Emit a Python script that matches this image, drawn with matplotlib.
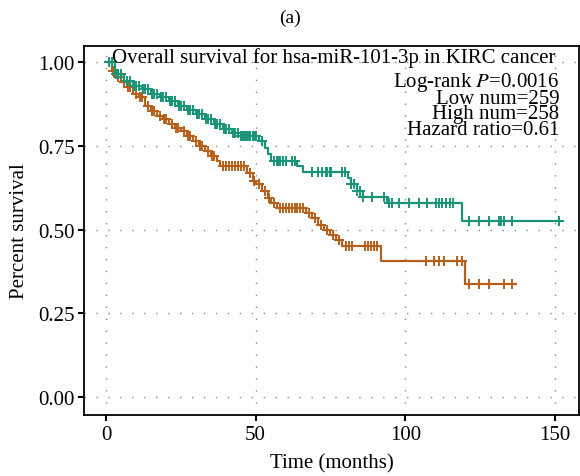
import numpy as np
import matplotlib
matplotlib.use("Agg")
import matplotlib.pyplot as plt

plt.rcParams["font.family"] = ["Liberation Serif", "DejaVu Serif"]
plt.rcParams["mathtext.fontset"] = "stix"

# Kaplan-Meier steps: (time in months, survival after the step)
low_t = [0, 3, 6, 9, 12, 15, 18, 21, 24, 27, 30, 33, 36, 39, 42, 45,
         51, 53, 54, 55, 64, 66, 81, 82, 84, 86, 94, 119, 152]
low_s = [1.0, 0.965, 0.945, 0.93, 0.92, 0.905, 0.895, 0.885, 0.87, 0.857, 0.845, 0.83,
         0.815, 0.80, 0.79, 0.78, 0.765, 0.745, 0.725, 0.705, 0.69, 0.672, 0.655, 0.635,
         0.615, 0.597, 0.578, 0.526, 0.526]
low_cens = [1, 2, 3.5, 4, 5, 7, 8, 9.5, 10, 11, 12.5, 13, 14, 15.5, 16, 17, 18.5, 19, 20,
            21.5, 22, 23, 24.5, 25, 26, 27.5, 28, 29, 30.5, 31, 32, 33.5, 34, 35, 36.5,
            37, 38, 39.5, 40, 41, 42.5, 43, 44, 45, 45.5, 46, 46.5, 47, 47.5, 48, 49,
            49.5, 50, 52, 56, 57, 57.5, 58, 59, 60, 62, 63, 69, 70.7, 72.3, 73.5, 74,
            74.7, 75.3, 79, 80, 82, 83, 84, 85, 86, 89, 93, 94.7, 95.7, 98, 101.3, 104.7,
            107.3, 110.3, 111.3, 112.3, 113.7, 115, 116, 121.3, 124.7, 128, 131.3, 132,
            133, 135.7, 151.3]

high_t = [0, 2, 3, 5, 7, 9, 11, 13, 15, 17, 19, 21, 23, 25, 27, 29, 31, 33, 35, 37, 38,
          47, 49, 50, 52, 54, 55, 57, 67, 69, 71, 73, 75, 77, 79, 92, 120, 137]
high_s = [1.0, 0.975, 0.955, 0.94, 0.925, 0.905, 0.895, 0.87, 0.855, 0.84, 0.83, 0.815,
          0.805, 0.795, 0.78, 0.765, 0.75, 0.735, 0.72, 0.705, 0.69, 0.67, 0.645, 0.635,
          0.615, 0.595, 0.58, 0.565, 0.55, 0.535, 0.515, 0.50, 0.485, 0.47, 0.452,
          0.405, 0.337, 0.337]
high_cens = [1, 2.5, 4, 6, 7.5, 8, 10, 11.5, 12, 14, 15.5, 16, 18, 19.5, 20, 22, 23.5, 24,
             26, 27.5, 28, 30, 31.5, 32, 34, 35.5, 36, 39, 40, 41, 42, 43, 44, 45, 46,
             48, 49.5, 51, 53, 54.5, 56, 58, 59, 60, 61, 62, 63, 64, 65, 66, 68, 70,
             72, 74, 76, 78, 80.2, 81.3, 82.3, 86.5, 87.5, 88.5, 89.5, 90.5,
             107, 109.7, 111.3, 113, 117.3, 119, 121.3, 124.7, 128, 133, 135.7]

stats = ["Log-rank $\\it{P}$=0.0016", "Low num=259", "High num=258", "Hazard ratio=0.61"]

teal = "#1a9479"
orange = "#b5611c"


def step_value(ts, ss, x):
    idx = np.searchsorted(ts, x, side="right") - 1
    return np.asarray(ss)[idx]


fig = plt.figure(figsize=(5.8, 4.77), dpi=100)
ax = fig.add_axes([0.145, 0.128, 0.853, 0.773])

for ts, ss, cens, col in [(high_t, high_s, high_cens, orange), (low_t, low_s, low_cens, teal)]:
    ax.step(ts, ss, where="post", color=col, lw=1.6)
    ax.plot(cens, step_value(ts, ss, cens), ls="none", marker="+", ms=7.5,
            mew=1.4, color=col)

ax.set_xlim(-7.3, 158)
ax.set_ylim(-0.054, 1.048)
ax.set_xticks([0, 50, 100, 150])
ax.set_yticks([0, 0.25, 0.5, 0.75, 1.0])
ax.set_yticklabels(["0.00", "0.25", "0.50", "0.75", "1.00"])
ax.grid(True, color="#888888", lw=1, linestyle=(0, (1, 7.6)))
ax.set_axisbelow(True)
ax.tick_params(direction="out", length=4.5, width=1.5, pad=2.5, labelsize=15,
               color="black")
for sp in ax.spines.values():
    sp.set_linewidth(1.3)

ax.set_xlabel("Time (months)", fontsize=15, labelpad=7)
ax.set_ylabel("Percent survival", fontsize=15, labelpad=6)

ax.text(76, 1.015, "Overall survival for hsa-miR-101-3p in KIRC cancer",
        ha="center", va="center", fontsize=15)
ax.text(151.5, 0.978, "\n".join(stats), ha="right", va="top", fontsize=15,
        linespacing=0.74)

fig.text(0.5, 0.962, "(a)", ha="center", va="center", fontsize=14)

fig.savefig("out.png", dpi=100)
